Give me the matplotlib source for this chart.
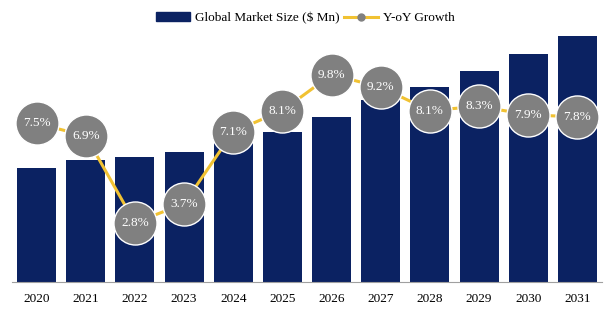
import matplotlib
matplotlib.use("Agg")
import matplotlib.pyplot as plt
import numpy as np

plt.rcParams["font.family"] = ["Liberation Serif", "DejaVu Serif"]

years = ["2020", "2021", "2022", "2023", "2024", "2025", "2026", "2027", "2028", "2029", "2030", "2031"]
market_size = [114, 122, 125, 130, 139, 150, 165, 182, 195, 211, 228, 246]
growth = [7.5, 6.9, 2.8, 3.7, 7.1, 8.1, 9.8, 9.2, 8.1, 8.3, 7.9, 7.8]

navy = "#0b2262"
gold = "#f1c232"
grey = "#808080"

fig = plt.figure(figsize=(6.11, 3.22), dpi=100)
ax = fig.add_axes([12 / 611, 1 - 282 / 322, 590 / 611, 254 / 322])
x = np.arange(len(years))

ax.bar(x, market_size, width=0.79, color=navy, label="Global Market Size ($ Mn)", zorder=2)
ax.set_xlim(-0.5, len(years) - 0.5)
ax.set_ylim(0, 254)
ax.set_yticks([])
ax.set_xticks(x)
ax.set_xticklabels(years, fontsize=9.5)
ax.tick_params(axis="x", length=0, pad=8)
for s in ["top", "right", "left"]:
    ax.spines[s].set_visible(False)
ax.spines["bottom"].set_color("#a0a0a0")

ax2 = ax.twinx()
ax2.plot(x, growth, color=gold, lw=2.2, marker="o", markersize=31,
         markerfacecolor=grey, markeredgecolor="white", markeredgewidth=1,
         label="Y-oY Growth", zorder=3)
for xi, g in zip(x, growth):
    ax2.text(xi, g, f"{g}%", color="white", ha="center", va="center", fontsize=9.5, zorder=4)
ax2.set_ylim(0, 12)
ax2.set_yticks([])
for s in ["top", "right", "left", "bottom"]:
    ax2.spines[s].set_visible(False)

from matplotlib.lines import Line2D
from matplotlib.patches import Patch
handles = [Patch(color=navy, label="Global Market Size ($ Mn)"),
           Line2D([0], [0], color=gold, lw=2.2, marker="o", markersize=5,
                  markerfacecolor=grey, markeredgecolor=grey, label="Y-oY Growth")]
fig.legend(handles=handles, loc="center", bbox_to_anchor=(0.5, 18 / 322 * -1 + 1),
           ncol=2, frameon=False, fontsize=9.5, handlelength=2.6, handleheight=0.6,
           columnspacing=0.3, handletextpad=0.4)

fig.savefig("out.png", dpi=100)
